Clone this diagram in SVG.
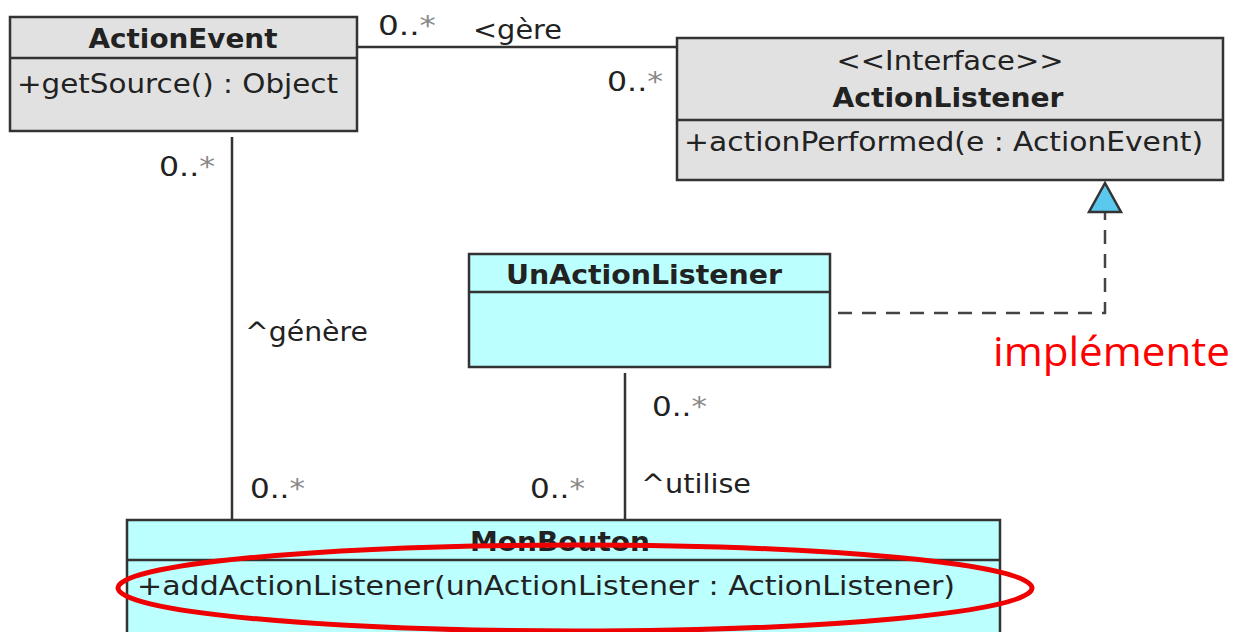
<svg xmlns="http://www.w3.org/2000/svg" width="1233" height="632" viewBox="0 0 1233 632">
<style>
.box{stroke:#333;stroke-width:2.5}
.gray{fill:#e1e1e1}
.cyan{fill:#bbffff}
.t{font-family:"DejaVu Sans","Liberation Sans",sans-serif;font-size:26px;fill:#222}
.b{font-weight:bold}
.line{stroke:#333;stroke-width:2.5;fill:none}
.ast{fill:#888}
</style>
<rect width="1233" height="632" fill="#fff"/>
<g id="connectors">
  <line class="line" x1="357" y1="47" x2="677" y2="47"/>
  <line class="line" x1="232" y1="137" x2="232" y2="520"/>
  <line class="line" x1="625" y1="373" x2="625" y2="520"/>
  <polyline class="line" points="838,313 1105,313 1105,212" stroke-dasharray="14,10" style="stroke:#444"/>
  <polygon points="1105,183 1089,212 1121,212" fill="#5bc8ee" stroke="#333" stroke-width="2.5"/>
  <text class="t" x="378" y="35" textLength="58" lengthAdjust="spacingAndGlyphs">0..<tspan class="ast">*</tspan></text>
  <text class="t" x="473" y="39" textLength="89" lengthAdjust="spacingAndGlyphs">&lt;gère</text>
  <text class="t" x="607" y="91" textLength="56" lengthAdjust="spacingAndGlyphs">0..<tspan class="ast">*</tspan></text>
  <text class="t" x="159" y="176" textLength="56" lengthAdjust="spacingAndGlyphs">0..<tspan class="ast">*</tspan></text>
  <text class="t" x="245" y="341" textLength="123" lengthAdjust="spacingAndGlyphs">^génère</text>
  <text class="t" x="250" y="498" textLength="55" lengthAdjust="spacingAndGlyphs">0..<tspan class="ast">*</tspan></text>
  <text class="t" x="530" y="498" textLength="55" lengthAdjust="spacingAndGlyphs">0..<tspan class="ast">*</tspan></text>
  <text class="t" x="652" y="416" textLength="55" lengthAdjust="spacingAndGlyphs">0..<tspan class="ast">*</tspan></text>
  <text class="t" x="641" y="493" textLength="110" lengthAdjust="spacingAndGlyphs">^utilise</text>
</g>
<g id="ActionEvent">
  <rect class="box gray" x="10" y="17" width="347" height="114"/>
  <line class="line" x1="10" y1="58" x2="357" y2="58"/>
  <text class="t b" x="183" y="48" text-anchor="middle" textLength="189" lengthAdjust="spacingAndGlyphs">ActionEvent</text>
  <text class="t" x="17" y="93" textLength="321" lengthAdjust="spacingAndGlyphs">+getSource() : Object</text>
</g>
<g id="ActionListener">
  <rect class="box gray" x="677" y="38" width="546" height="142"/>
  <line class="line" x1="677" y1="120" x2="1223" y2="120"/>
  <text class="t" x="950" y="70" text-anchor="middle" textLength="227" lengthAdjust="spacingAndGlyphs">&lt;&lt;Interface&gt;&gt;</text>
  <text class="t b" x="948" y="107" text-anchor="middle" textLength="231" lengthAdjust="spacingAndGlyphs">ActionListener</text>
  <text class="t" x="684" y="151" textLength="519" lengthAdjust="spacingAndGlyphs">+actionPerformed(e : ActionEvent)</text>
</g>
<g id="UnActionListener">
  <rect class="box cyan" x="469" y="254" width="361" height="113"/>
  <line class="line" x1="469" y1="292" x2="830" y2="292"/>
  <text class="t b" x="644" y="284" text-anchor="middle" textLength="276" lengthAdjust="spacingAndGlyphs">UnActionListener</text>
</g>
<g id="MonBouton">
  <rect class="box cyan" x="127" y="520" width="873" height="130"/>
  <line class="line" x1="127" y1="560" x2="1000" y2="560"/>
  <text class="t b" x="560" y="551" text-anchor="middle" textLength="180" lengthAdjust="spacingAndGlyphs">MonBouton</text>
  <text class="t" x="137" y="595" textLength="818" lengthAdjust="spacingAndGlyphs">+addActionListener(unActionListener : ActionListener)</text>
</g>
<g id="annotations">
  <text x="993" y="366" font-family="'Open Sans','Liberation Sans',sans-serif" font-size="40" fill="#ff0000" textLength="237" lengthAdjust="spacingAndGlyphs">implémente</text>
  <ellipse cx="575" cy="588" rx="457" ry="43" fill="none" stroke="#ee0000" stroke-width="5"/>
</g>
</svg>
